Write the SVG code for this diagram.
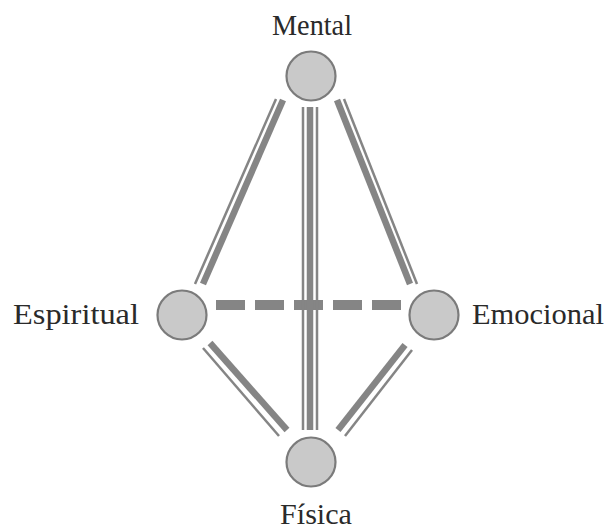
<svg xmlns="http://www.w3.org/2000/svg" width="608" height="529" viewBox="0 0 608 529">
<style>
.lbl{font-family:"Liberation Serif","Times New Roman",serif;font-size:29px;fill:#2a2a2a}
.thick{stroke:#858585;stroke-width:6.5;fill:none}
.thin{stroke:#858585;stroke-width:2.5;fill:none}
.dash{stroke:#858585;stroke-width:10;stroke-dasharray:29 10;fill:none}
.node circle{fill:#c9c9c9;stroke:#7b7b7b;stroke-width:2.2}
</style>
<rect width="608" height="529" fill="#fff"/>
<g id="connectors">
<line class="dash" x1="216" y1="305" x2="404" y2="305"/>
<line class="thick" x1="283" y1="100" x2="203" y2="284"/>
<line class="thin" x1="276" y1="99" x2="195" y2="284"/>
<line class="thick" x1="337" y1="100" x2="410" y2="284"/>
<line class="thin" x1="344" y1="99" x2="417" y2="284"/>
<line class="thick" x1="310" y1="107" x2="310" y2="430"/>
<line class="thin" x1="303" y1="107" x2="303" y2="430"/>
<line class="thin" x1="317" y1="107" x2="317" y2="430"/>
<line class="thick" x1="210" y1="343" x2="287" y2="430"/>
<line class="thin" x1="203" y1="348" x2="279" y2="436"/>
<line class="thick" x1="405" y1="345" x2="338" y2="430"/>
<line class="thin" x1="412" y1="350" x2="345" y2="436"/>
</g>
<g id="mental" class="node"><circle cx="311" cy="76" r="24.5"/><text class="lbl" x="272" y="35" textLength="80" lengthAdjust="spacingAndGlyphs">Mental</text></g>
<g id="espiritual" class="node"><circle cx="182" cy="315" r="24.5"/><text class="lbl" x="13" y="324" textLength="126" lengthAdjust="spacingAndGlyphs">Espiritual</text></g>
<g id="emocional" class="node"><circle cx="434" cy="315" r="24.5"/><text class="lbl" x="472" y="324" textLength="132" lengthAdjust="spacingAndGlyphs">Emocional</text></g>
<g id="fisica" class="node"><circle cx="311" cy="462" r="24.5"/><text class="lbl" x="280" y="524" textLength="72" lengthAdjust="spacingAndGlyphs">Física</text></g>
</svg>
